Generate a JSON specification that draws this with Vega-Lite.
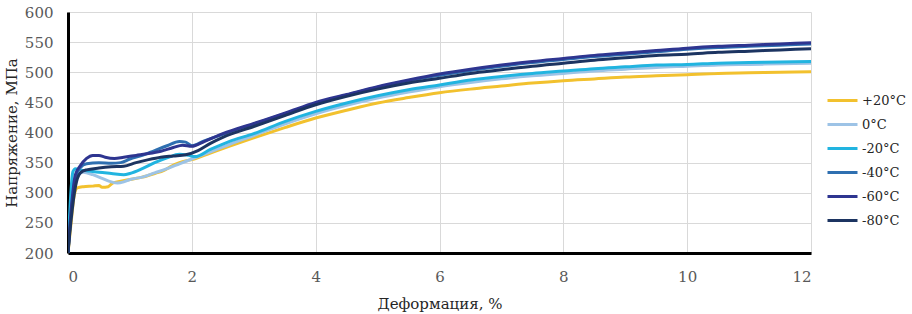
{
  "$schema": "https://vega.github.io/schema/vega-lite/v6.json",
  "autosize": {"type": "none"},
  "width": 743,
  "height": 241,
  "padding": {"left": 68, "top": 12, "right": 101, "bottom": 61},
  "background": "white",
  "config": {
    "view": {"stroke": null},
    "font": "DejaVu Serif"
  },
  "data": {"values": [
    {"s":"+20°C","x":0,"y":200},{"s":"+20°C","x":0.05,"y":250},{"s":"+20°C","x":0.1,"y":295},{"s":"+20°C","x":0.15,"y":308},{"s":"+20°C","x":0.25,"y":310},{"s":"+20°C","x":0.4,"y":311},{"s":"+20°C","x":0.5,"y":312},{"s":"+20°C","x":0.55,"y":309},{"s":"+20°C","x":0.65,"y":310},{"s":"+20°C","x":0.72,"y":316},{"s":"+20°C","x":0.85,"y":319},{"s":"+20°C","x":1.0,"y":322},{"s":"+20°C","x":1.2,"y":326},{"s":"+20°C","x":1.4,"y":332},{"s":"+20°C","x":1.55,"y":337},{"s":"+20°C","x":1.65,"y":343},{"s":"+20°C","x":1.8,"y":350},{"s":"+20°C","x":2.0,"y":355},{"s":"+20°C","x":2.3,"y":366},{"s":"+20°C","x":2.6,"y":377},{"s":"+20°C","x":3,"y":391},{"s":"+20°C","x":3.5,"y":408},{"s":"+20°C","x":4,"y":424},{"s":"+20°C","x":4.5,"y":437},{"s":"+20°C","x":5,"y":449},{"s":"+20°C","x":5.5,"y":458},{"s":"+20°C","x":6,"y":466},{"s":"+20°C","x":6.5,"y":472},{"s":"+20°C","x":7,"y":477},{"s":"+20°C","x":7.5,"y":482},{"s":"+20°C","x":8,"y":486},{"s":"+20°C","x":8.5,"y":489},{"s":"+20°C","x":9,"y":492},{"s":"+20°C","x":9.5,"y":494},{"s":"+20°C","x":10,"y":496},{"s":"+20°C","x":10.5,"y":498},{"s":"+20°C","x":11,"y":499},{"s":"+20°C","x":11.5,"y":500},{"s":"+20°C","x":12,"y":501},

    {"s":"0°C","x":0,"y":200},{"s":"0°C","x":0.05,"y":280},{"s":"0°C","x":0.1,"y":320},{"s":"0°C","x":0.15,"y":330},{"s":"0°C","x":0.25,"y":334},{"s":"0°C","x":0.4,"y":330},{"s":"0°C","x":0.55,"y":324},{"s":"0°C","x":0.7,"y":318},{"s":"0°C","x":0.8,"y":316},{"s":"0°C","x":0.9,"y":318},{"s":"0°C","x":1.0,"y":322},{"s":"0°C","x":1.2,"y":326},{"s":"0°C","x":1.4,"y":333},{"s":"0°C","x":1.6,"y":340},{"s":"0°C","x":1.8,"y":348},{"s":"0°C","x":2.0,"y":356},{"s":"0°C","x":2.3,"y":368},{"s":"0°C","x":2.6,"y":380},{"s":"0°C","x":3,"y":395},{"s":"0°C","x":3.5,"y":414},{"s":"0°C","x":4,"y":431},{"s":"0°C","x":4.5,"y":445},{"s":"0°C","x":5,"y":457},{"s":"0°C","x":5.5,"y":467},{"s":"0°C","x":6,"y":476},{"s":"0°C","x":6.5,"y":483},{"s":"0°C","x":7,"y":489},{"s":"0°C","x":7.5,"y":494},{"s":"0°C","x":8,"y":498},{"s":"0°C","x":8.5,"y":502},{"s":"0°C","x":9,"y":505},{"s":"0°C","x":9.5,"y":508},{"s":"0°C","x":10,"y":510},{"s":"0°C","x":10.5,"y":512},{"s":"0°C","x":11,"y":513},{"s":"0°C","x":11.5,"y":514},{"s":"0°C","x":12,"y":515},

    {"s":"-20°C","x":0,"y":200},{"s":"-20°C","x":0.04,"y":290},{"s":"-20°C","x":0.08,"y":335},{"s":"-20°C","x":0.12,"y":340},{"s":"-20°C","x":0.2,"y":338},{"s":"-20°C","x":0.35,"y":336},{"s":"-20°C","x":0.5,"y":334},{"s":"-20°C","x":0.7,"y":332},{"s":"-20°C","x":0.9,"y":330},{"s":"-20°C","x":1.0,"y":332},{"s":"-20°C","x":1.2,"y":340},{"s":"-20°C","x":1.4,"y":350},{"s":"-20°C","x":1.6,"y":358},{"s":"-20°C","x":1.8,"y":364},{"s":"-20°C","x":1.95,"y":362},{"s":"-20°C","x":2.05,"y":360},{"s":"-20°C","x":2.3,"y":372},{"s":"-20°C","x":2.6,"y":385},{"s":"-20°C","x":3,"y":398},{"s":"-20°C","x":3.5,"y":418},{"s":"-20°C","x":4,"y":435},{"s":"-20°C","x":4.5,"y":449},{"s":"-20°C","x":5,"y":461},{"s":"-20°C","x":5.5,"y":471},{"s":"-20°C","x":6,"y":479},{"s":"-20°C","x":6.5,"y":487},{"s":"-20°C","x":7,"y":493},{"s":"-20°C","x":7.5,"y":498},{"s":"-20°C","x":8,"y":502},{"s":"-20°C","x":8.5,"y":506},{"s":"-20°C","x":9,"y":509},{"s":"-20°C","x":9.5,"y":512},{"s":"-20°C","x":10,"y":513},{"s":"-20°C","x":10.5,"y":515},{"s":"-20°C","x":11,"y":516},{"s":"-20°C","x":11.5,"y":517},{"s":"-20°C","x":12,"y":518},

    {"s":"-40°C","x":0,"y":200},{"s":"-40°C","x":0.05,"y":265},{"s":"-40°C","x":0.12,"y":325},{"s":"-40°C","x":0.2,"y":342},{"s":"-40°C","x":0.3,"y":348},{"s":"-40°C","x":0.5,"y":350},{"s":"-40°C","x":0.7,"y":349},{"s":"-40°C","x":0.85,"y":350},{"s":"-40°C","x":1.0,"y":356},{"s":"-40°C","x":1.2,"y":362},{"s":"-40°C","x":1.4,"y":370},{"s":"-40°C","x":1.6,"y":378},{"s":"-40°C","x":1.8,"y":385},{"s":"-40°C","x":1.9,"y":384},{"s":"-40°C","x":2.0,"y":378},{"s":"-40°C","x":2.2,"y":386},{"s":"-40°C","x":2.5,"y":397},{"s":"-40°C","x":3,"y":414},{"s":"-40°C","x":3.5,"y":431},{"s":"-40°C","x":4,"y":448},{"s":"-40°C","x":4.5,"y":462},{"s":"-40°C","x":5,"y":475},{"s":"-40°C","x":5.5,"y":486},{"s":"-40°C","x":6,"y":495},{"s":"-40°C","x":6.5,"y":503},{"s":"-40°C","x":7,"y":510},{"s":"-40°C","x":7.5,"y":516},{"s":"-40°C","x":8,"y":521},{"s":"-40°C","x":8.5,"y":526},{"s":"-40°C","x":9,"y":530},{"s":"-40°C","x":9.5,"y":534},{"s":"-40°C","x":10,"y":538},{"s":"-40°C","x":10.5,"y":541},{"s":"-40°C","x":11,"y":543},{"s":"-40°C","x":11.5,"y":545},{"s":"-40°C","x":12,"y":547},

    {"s":"-60°C","x":0,"y":200},{"s":"-60°C","x":0.05,"y":270},{"s":"-60°C","x":0.12,"y":330},{"s":"-60°C","x":0.2,"y":345},{"s":"-60°C","x":0.3,"y":357},{"s":"-60°C","x":0.4,"y":362},{"s":"-60°C","x":0.5,"y":362},{"s":"-60°C","x":0.6,"y":359},{"s":"-60°C","x":0.75,"y":357},{"s":"-60°C","x":0.9,"y":359},{"s":"-60°C","x":1.1,"y":362},{"s":"-60°C","x":1.3,"y":365},{"s":"-60°C","x":1.5,"y":369},{"s":"-60°C","x":1.7,"y":375},{"s":"-60°C","x":1.85,"y":379},{"s":"-60°C","x":2.0,"y":377},{"s":"-60°C","x":2.2,"y":385},{"s":"-60°C","x":2.5,"y":398},{"s":"-60°C","x":3,"y":415},{"s":"-60°C","x":3.5,"y":432},{"s":"-60°C","x":4,"y":450},{"s":"-60°C","x":4.5,"y":463},{"s":"-60°C","x":5,"y":476},{"s":"-60°C","x":5.5,"y":487},{"s":"-60°C","x":6,"y":497},{"s":"-60°C","x":6.5,"y":505},{"s":"-60°C","x":7,"y":512},{"s":"-60°C","x":7.5,"y":518},{"s":"-60°C","x":8,"y":523},{"s":"-60°C","x":8.5,"y":528},{"s":"-60°C","x":9,"y":532},{"s":"-60°C","x":9.5,"y":536},{"s":"-60°C","x":10,"y":540},{"s":"-60°C","x":10.5,"y":543},{"s":"-60°C","x":11,"y":545},{"s":"-60°C","x":11.5,"y":547},{"s":"-60°C","x":12,"y":549},

    {"s":"-80°C","x":0,"y":200},{"s":"-80°C","x":0.05,"y":255},{"s":"-80°C","x":0.12,"y":310},{"s":"-80°C","x":0.2,"y":333},{"s":"-80°C","x":0.3,"y":338},{"s":"-80°C","x":0.5,"y":341},{"s":"-80°C","x":0.7,"y":343},{"s":"-80°C","x":0.9,"y":344},{"s":"-80°C","x":1.1,"y":350},{"s":"-80°C","x":1.3,"y":355},{"s":"-80°C","x":1.5,"y":359},{"s":"-80°C","x":1.7,"y":361},{"s":"-80°C","x":1.9,"y":363},{"s":"-80°C","x":2.1,"y":370},{"s":"-80°C","x":2.3,"y":382},{"s":"-80°C","x":2.5,"y":392},{"s":"-80°C","x":3,"y":410},{"s":"-80°C","x":3.5,"y":428},{"s":"-80°C","x":4,"y":446},{"s":"-80°C","x":4.5,"y":460},{"s":"-80°C","x":5,"y":472},{"s":"-80°C","x":5.5,"y":482},{"s":"-80°C","x":6,"y":490},{"s":"-80°C","x":6.5,"y":498},{"s":"-80°C","x":7,"y":504},{"s":"-80°C","x":7.5,"y":510},{"s":"-80°C","x":8,"y":515},{"s":"-80°C","x":8.5,"y":520},{"s":"-80°C","x":9,"y":524},{"s":"-80°C","x":9.5,"y":528},{"s":"-80°C","x":10,"y":530},{"s":"-80°C","x":10.5,"y":533},{"s":"-80°C","x":11,"y":535},{"s":"-80°C","x":11.5,"y":537},{"s":"-80°C","x":12,"y":539}
  ]},
  "mark": {"type": "line", "strokeWidth": 3, "interpolate": "monotone", "clip": true},
  "encoding": {
    "x": {
      "field": "x", "type": "quantitative",
      "scale": {"domain": [0, 12], "nice": false},
      "axis": {
        "values": [0, 2, 4, 6, 8, 10, 12],
        "title": "Деформация, %",
        "titleFont": "DejaVu Serif", "titleFontSize": 15, "titleFontWeight": "normal", "titleColor": "#262626", "titlePadding": 12,
        "labelFont": "DejaVu Serif", "labelFontSize": 15, "labelColor": "#595959", "labelPadding": 16,
        "ticks": false,
        "domainColor": "black", "domainWidth": 3,
        "gridColor": "#d9d9d9", "gridWidth": 1
      }
    },
    "y": {
      "field": "y", "type": "quantitative",
      "scale": {"domain": [200, 600], "nice": false},
      "axis": {
        "values": [200, 250, 300, 350, 400, 450, 500, 550, 600],
        "title": "Напряжение, МПа",
        "titleFont": "DejaVu Serif", "titleFontSize": 15, "titleFontWeight": "normal", "titleColor": "#262626", "titlePadding": 5,
        "labelFont": "DejaVu Serif", "labelFontSize": 15, "labelColor": "#595959", "labelPadding": 15,
        "ticks": false,
        "domainColor": "black", "domainWidth": 3,
        "gridColor": "#d9d9d9", "gridWidth": 1
      }
    },
    "color": {
      "field": "s", "type": "nominal",
      "scale": {
        "domain": ["+20°C", "0°C", "-20°C", "-40°C", "-60°C", "-80°C"],
        "range": ["#f2c12e", "#9dc3e6", "#21b4e0", "#2e6fb0", "#2e3590", "#1c3461"]
      },
      "legend": {
        "title": null,
        "orient": "none",
        "legendX": 758,
        "legendY": 72,
        "symbolType": "stroke",
        "symbolSize": 900,
        "symbolStrokeWidth": 3,
        "rowPadding": -8,
        "labelFont": "DejaVu Serif",
        "labelFontSize": 13,
        "labelColor": "#262626",
        "labelOffset": 3
      }
    }
  }
}
